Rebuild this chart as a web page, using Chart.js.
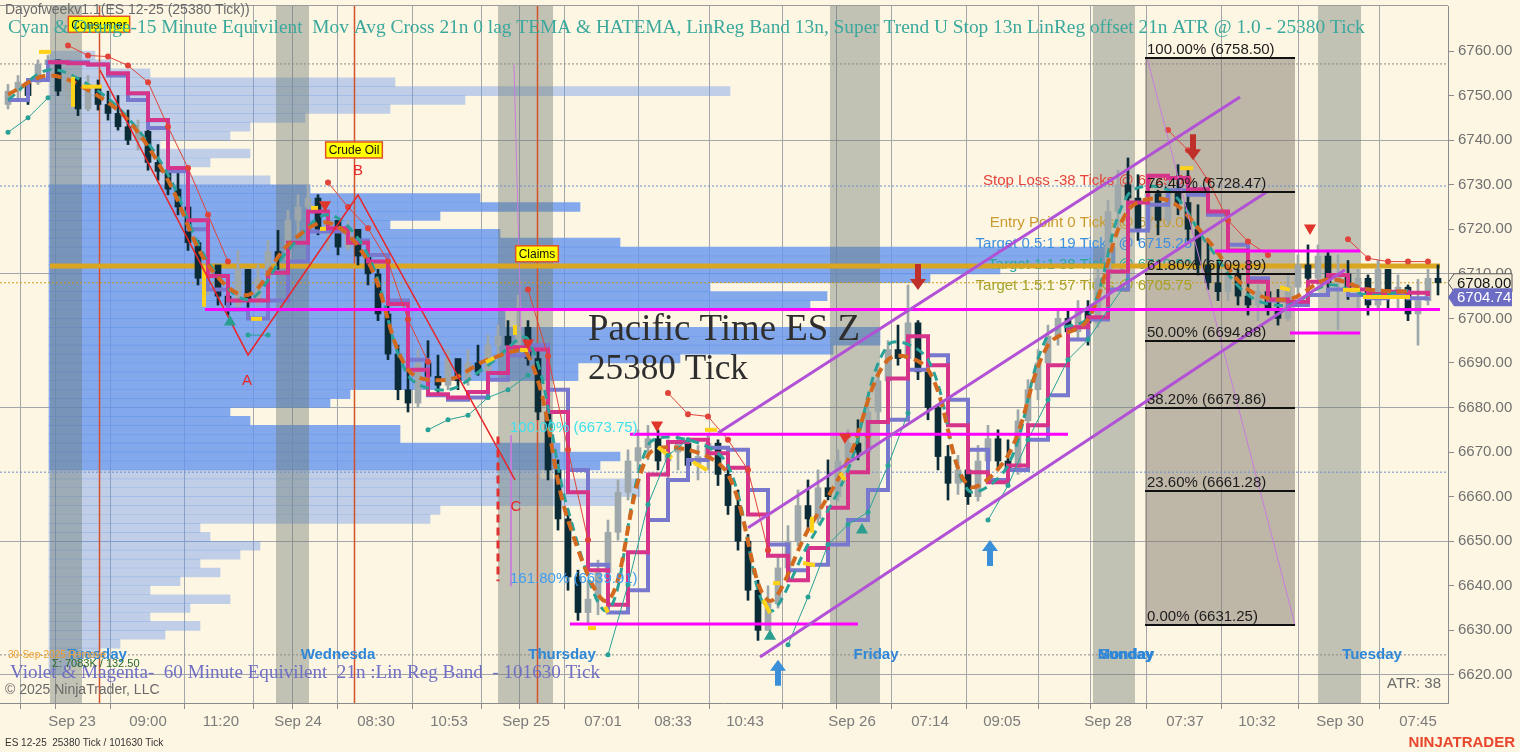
<!DOCTYPE html>
<html>
<head>
<meta charset="utf-8">
<title>ES 12-25 25380 Tick</title>
<script src="https://cdn.jsdelivr.net/npm/chart.js@4.4.1/dist/chart.umd.min.js"></script>
<style>
  html, body { margin: 0; padding: 0; background: #fdf6e3; overflow: hidden; }
  #chartES { display: block; width: 1520px; height: 752px; }
</style>
</head>
<body>
<canvas id="chartES" width="1520" height="752"></canvas>
<script>
// one entry per 25380 tick bar (index 0..143)
const barOpen = [
  6748, 6751, 6753, 6753, 6757, 6758, 6751, 6754, 6747, 6752,
  6748, 6746, 6743, 6740, 6742, 6735, 6733, 6729, 6725, 6717,
  6709, 6712, 6705, 6703, 6711, 6704, 6709, 6715, 6713, 6722,
  6725, 6727, 6720, 6722, 6716, 6720, 6714, 6710, 6701, 6692,
  6684, 6681, 6690, 6687, 6685, 6691, 6686, 6690, 6688, 6694,
  6696, 6694, 6698, 6691, 6679, 6666, 6655, 6642, 6634, 6637,
  6643, 6652, 6661, 6668, 6671, 6673, 6668, 6670, 6672, 6667,
  6669, 6672, 6665, 6658, 6650, 6639, 6630, 6636, 6644, 6650,
  6658, 6655, 6662, 6660, 6668, 6672, 6670, 6679, 6686, 6693,
  6691, 6699, 6688, 6680, 6669, 6663, 6666, 6660, 6668, 6673,
  6668, 6666, 6677, 6684, 6690, 6696, 6700, 6697, 6702, 6699,
  6709, 6724, 6730, 6727, 6720, 6728, 6722, 6729, 6726, 6720,
  6712, 6708, 6706, 6710, 6705, 6703, 6706, 6702, 6700, 6707,
  6712, 6709, 6714, 6708, 6710, 6706, 6709, 6703, 6711, 6705,
  6707, 6701, 6704, 6709
];
const barHigh = [
  6752.5, 6754.5, 6753.5, 6758, 6759, 6758, 6755.5, 6753.5, 6754.5, 6753.5,
  6751, 6750, 6746.75, 6744.5, 6742.25, 6739, 6736.75, 6733.25, 6727.75, 6717.5,
  6714.25, 6711, 6708.75, 6715.25, 6711, 6712, 6717.5, 6719.75, 6724.25, 6727.75,
  6730, 6727.75, 6724.25, 6722, 6722, 6719.75, 6717.5, 6711, 6703, 6694,
  6689.5, 6693, 6695, 6691.75, 6693, 6690.75, 6693, 6694, 6696.25, 6698.5,
  6699.5, 6705.25, 6699.5, 6693, 6680.5, 6668.25, 6657, 6643.5, 6641.25, 6645.75,
  6654.75, 6663.75, 6670.5, 6675, 6676, 6675, 6672.75, 6674, 6672.75, 6671.5,
  6674, 6672.75, 6668.25, 6661.5, 6651.5, 6641.25, 6640, 6646.75, 6653.5, 6661.5,
  6663.75, 6666, 6668.25, 6670.5, 6675, 6677.25, 6681.75, 6688.5, 6695, 6698.5,
  6707.5, 6699.5, 6689.5, 6680.5, 6671.5, 6669.25, 6667, 6671.5, 6676, 6675,
  6672.75, 6679.5, 6686.25, 6693, 6698.5, 6702, 6702, 6704, 6704, 6711,
  6726.5, 6733.25, 6736, 6732.25, 6731, 6728.75, 6732.25, 6734.5, 6733.25, 6725.5,
  6717.5, 6713, 6712, 6711, 6708.75, 6707.5, 6707.5, 6706.5, 6709.75, 6714.25,
  6716.5, 6716.5, 6715.25, 6714.25, 6713, 6711, 6709.75, 6713, 6711, 6709.75,
  6707.5, 6708.75, 6711, 6712
];
const barLow = [
  6747, 6749, 6748, 6752.5, 6754.5, 6750, 6749, 6745.5, 6746.5, 6746.75,
  6744.5, 6742.25, 6739, 6737.75, 6733.25, 6731, 6727.75, 6723.25, 6715.25, 6707.5,
  6705.25, 6703, 6700.75, 6702.5, 6702, 6703, 6708.75, 6711, 6712, 6718.75,
  6723.25, 6718.75, 6715.25, 6714.25, 6715.25, 6712, 6707.5, 6699.5, 6690.75, 6681.75,
  6679, 6680, 6685, 6682.75, 6684, 6684, 6685, 6687.25, 6687, 6691.75,
  6693, 6693, 6689.5, 6677.25, 6663.75, 6652.5, 6639, 6632.25, 6631.25, 6633.5,
  6641.25, 6650.25, 6659.25, 6666, 6668.25, 6666, 6663.75, 6666, 6665, 6663.75,
  6666, 6662.5, 6656, 6648, 6636.75, 6627.75, 6630, 6635, 6643.5, 6649,
  6652.5, 6654, 6659.25, 6659, 6666, 6668.25, 6669, 6677.25, 6684, 6689.5,
  6690, 6686.25, 6677.25, 6666, 6659.25, 6660.5, 6658.25, 6659, 6666, 6666,
  6663.75, 6665, 6675, 6681.75, 6688.5, 6694, 6693, 6695, 6694, 6698,
  6708, 6719.75, 6724.25, 6717.5, 6719.75, 6718.75, 6721, 6723.25, 6717.5, 6709.75,
  6706.5, 6704, 6704, 6703, 6700.75, 6699.5, 6700.75, 6698.5, 6699.5, 6704.25,
  6706.5, 6707.5, 6706.5, 6697.5, 6704.25, 6702, 6700.75, 6702, 6702, 6702,
  6699.5, 6694, 6703, 6705.25
];
const barClose = [
  6751, 6753, 6750, 6757, 6758, 6751, 6754, 6747, 6752, 6748,
  6746, 6743, 6740, 6742, 6735, 6733, 6729, 6725, 6717, 6709,
  6712, 6705, 6703, 6711, 6704, 6709, 6715, 6713, 6722, 6725,
  6727, 6720, 6722, 6716, 6720, 6714, 6710, 6701, 6692, 6684,
  6681, 6690, 6687, 6685, 6691, 6686, 6690, 6688, 6694, 6696,
  6694, 6698, 6691, 6679, 6666, 6655, 6642, 6634, 6637, 6643,
  6652, 6661, 6668, 6671, 6673, 6668, 6670, 6672, 6667, 6669,
  6672, 6665, 6658, 6650, 6639, 6630, 6636, 6644, 6650, 6658,
  6655, 6662, 6660, 6668, 6672, 6670, 6679, 6686, 6693, 6691,
  6699, 6688, 6680, 6669, 6663, 6666, 6660, 6668, 6673, 6668,
  6666, 6677, 6684, 6690, 6696, 6700, 6697, 6702, 6699, 6709,
  6724, 6730, 6727, 6720, 6728, 6722, 6729, 6726, 6720, 6712,
  6708, 6706, 6710, 6705, 6703, 6706, 6702, 6700, 6707, 6712,
  6709, 6714, 6708, 6710, 6706, 6709, 6703, 6711, 6705, 6707,
  6701, 6704, 6709, 6708
];

// axes
const xMin = -0.8, xMax = 144;
const yMin = 6613.7, yMax = 6770.1;
const priceTicks = [6620, 6630, 6640, 6650, 6660, 6670, 6680, 6690, 6700, 6710, 6720, 6730, 6740, 6750, 6760];
const tickPos = [3.0, 6.4, 14.0, 21.3, 27.9, 29.0, 36.8, 44.1, 50.6, 51.8, 59.5, 66.5, 73.7, 81.2, 84.4, 92.2, 99.4, 106.6, 110.0, 117.7, 124.9, 133.2, 141.0];
const tickLabels = ['', 'Sep 23', '09:00', '11:20', '', 'Sep 24', '08:30', '10:53', '', 'Sep 25', '07:01', '08:33', '10:43', '', 'Sep 26', '07:14', '09:05', '', 'Sep 28', '07:37', '10:32', 'Sep 30', '07:45'];

// volume profile (2 point bins)
const profileLevels = [6759, 6757, 6755, 6753, 6751, 6749, 6747, 6745, 6743, 6741, 6739, 6737, 6735, 6733, 6731, 6729, 6727, 6725, 6723, 6721, 6719, 6717, 6715, 6713, 6711, 6709, 6707, 6705, 6703, 6701, 6699, 6697, 6695, 6693, 6691, 6689, 6687, 6685, 6683, 6681, 6679, 6677, 6675, 6673, 6671, 6669, 6667, 6665, 6663, 6661, 6659, 6657, 6655, 6653, 6651, 6649, 6647, 6645, 6643, 6641, 6639, 6637, 6635, 6633, 6631, 6629, 6627, 6625, 6623, 6621];
const profileVol = [
  4.6, 6.1, 10.1, 34.6, 68.1, 41.6, 34.1, 25.6, 20.1, 18.1,
  11.1, 20.1, 16.1, 14.1, 22.1, 26.1, 43.1, 53.1, 39.1, 34.1,
  45.1, 57.1, 106.6, 106.6, 95.1, 88.1, 66.1, 77.8, 76.1, 45.6,
  45.6, 83.1, 83.1, 78.4, 63.1, 52.9, 52.9, 39.1, 30.1, 28.1,
  18.1, 20.1, 35.1, 35.1, 51.1, 57.1, 55.1, 49.1, 59.1, 59.1,
  57.1, 39.1, 38.1, 15.1, 16.1, 21.1, 19.1, 15.1, 17.1, 13.1,
  10.1, 18.1, 14.1, 10.1, 15.1, 11.6, 7.1, 5.1, 3.1, 1.6
];
const profileStart = 4.1;
const valueAreaHigh = 6730.4, valueAreaLow = 6665.3;

// indicators sampled every 2nd bar
const magentaBand = [
  null, null, 6757.5, 6757.25, 6757, 6755, 6750.5, 6744.5, 6733.75, 6722,
  6709.5, 6704, 6704, 6710.25, 6717, 6724, 6720.25, 6717, 6712.75, 6703.25,
  6688.5, 6683, 6682.25, 6683.5, 6687.75, 6693.5, 6693, 6679, 6661, 6643.5,
  6635.75, 6647.5, 6665, 6672.25, 6672.75, 6669.75, 6666.5, 6656, 6646.75, 6641.25,
  6648.5, 6657.5, 6665.5, 6676.75, 6686.5, 6696, 6689.5, 6676, 6665.5, 6663.25,
  6667, 6676, 6689.5, 6698, 6700.25, 6710.5, 6726, 6732, 6731.5, 6729,
  6724, 6715.25, 6708.25, 6704.25, 6703.75, 6708.25, 6709.75, 6706.5, 6705.5, 6706,
  6705.75, 6705
];
const violetBand = [
  6749, 6753.5, 6757.5, 6757.5, 6757, 6754.5, 6749, 6742.75, 6733, 6720,
  6706.5, 6702, 6700, 6704, 6712.75, 6719.5, 6719.5, 6717.5, 6714.25, 6704,
  6690.75, 6682.75, 6681.75, 6682.25, 6686.25, 6691.75, 6694, 6684, 6666, 6644.75,
  6634, 6639, 6654.75, 6663.75, 6668.25, 6671, 6670.5, 6661.5, 6649.25, 6643.5,
  6644.75, 6649.25, 6654.75, 6661.5, 6677.25, 6688.5, 6691.75, 6681.75, 6670.5, 6663.75,
  6666, 6672.75, 6682.75, 6695.25, 6699.75, 6706.5, 6719.75, 6725.5, 6728.75, 6727.75,
  6723.25, 6716.5, 6709, 6704, 6703, 6705.25, 6706.5, 6705.25, 6704.5, 6705,
  6704.5, 6704.75
];
const redStop = [
  null, null, null, 6761.25, 6759, 6758.75, 6756.75, 6753, 6743, 6733.75,
  6723.25, 6712.75, null, null, null, null, 6730.5, 6725, 6720.25, 6712.75,
  6699.75, 6690.25, null, null, null, null, 6706.5, 6691.5, 6670.5, 6650.25,
  null, null, null, 6683.25, 6678.5, 6678, 6672.75, 6666, 6648, null,
  null, null, 6673.75, 6673.75, null, null, null, null, null, null,
  null, null, null, null, null, null, null, null, 6742.25, 6737.75,
  6731, 6722, 6717.25, 6714.25, null, null, null, 6717.75, 6713.5, 6712.75,
  6712.75, 6712.75
];
const tealStop = [
  6741.75, 6745, 6749.5, null, null, null, null, null, null, null,
  null, null, 6696.25, 6696.25, null, null, null, null, null, null,
  null, 6675, 6677.25, 6678.25, 6682.25, 6684, 6687.25, null, null, null,
  6624.5, 6640.25, 6658.25, 6669.25, 6672.75, null, null, null, null, 6626.75,
  6637.5, 6649.25, 6653.75, 6656.5, 6667, 6678.75, null, null, null, 6654.75,
  6662.5, 6672.75, 6681.75, 6690.75, 6695.25, 6702, 6708.5, null, null, null,
  null, null, null, null, null, null, null, null, null, null,
  null, null
];
// indicators sampled every 4th bar
const orangeTema = [
  6750.25, 6754.5, 6751.25, 6744.5, 6731, 6712, 6705.25, 6716.5, 6721.5, 6712.75,
  6688.5, 6686.25, 6690.75, 6691.75, 6654.75, 6636.75, 6669.25, 6670.5, 6665, 6636.75,
  6652.5, 6668.25, 6690.75, 6688.5, 6662.5, 6669.25, 6694, 6699.75, 6724.25, 6726.5,
  6717.5, 6706.5, 6704.25, 6708.75, 6706.5, 6706
];
const tealHatema = [
  6749, 6755.75, 6752.5, 6745, 6732.25, 6712.75, 6704.25, 6715.25, 6723.25, 6714.25,
  6687.25, 6684, 6689.5, 6695.25, 6657, 6634.5, 6671.5, 6672.75, 6667, 6634.5,
  6649.25, 6666, 6694, 6690.75, 6661.5, 6667, 6696.25, 6700.25, 6727.75, 6728.75,
  6716.5, 6705.25, 6703, 6707.5, 6705.25, 6706.25
];
// HATEMA falling (yellow) pieces: start bar, start price, end bar, end price
const yellowX0 = [3.1, 6.5, 7.4, 19.6, 24.3, 30.3, 31.2, 47.8, 50.7, 51.2, 58.0, 59.7, 65.0, 68.5, 69.7, 75.5, 76.5, 79.5, 80.4, 83.2, 117.2, 127.2, 133.5, 135.5];
const yellowY0 = [6759.8, 6754.2, 6752.0, 6711.8, 6699.9, 6724.8, 6720.1, 6690.2, 6698.5, 6692.9, 6630.5, 6635.3, 6671.1, 6667.8, 6675.0, 6636.8, 6640.6, 6645.1, 6655.5, 6665.3, 6733.7, 6707.0, 6706.4, 6704.8];
const yellowX1 = [4.3, 6.5, 9.4, 19.6, 25.4, 31.0, 31.8, 48.6, 50.7, 52.0, 58.8, 60.0, 66.4, 69.9, 70.9, 76.2, 77.2, 80.7, 80.4, 83.7, 118.5, 128.2, 135.2, 140.2];
const yellowY1 = [6759.8, 6747.5, 6752.0, 6702.6, 6699.9, 6724.8, 6720.1, 6691.1, 6696.3, 6692.9, 6630.5, 6634.0, 6668.7, 6666.0, 6675.0, 6633.9, 6640.6, 6644.6, 6651.9, 6663.7, 6733.7, 6706.4, 6706.4, 6704.8];

// drawings
const pocPrice = 6711.75, pocFrom = 4.2, pocTo = 143.2;
const dottedLevels = [6757.1, 6729.7, 6708.0, 6665.5, 6624.5];
const supportLevels = [6702, 6674, 6631.4, 6715.1, 6696.7];
const supportFrom = [19.7, 62.2, 56.2, 120.7, 128.2];
const supportTo = [143.2, 106.0, 85.0, 135.2, 135.2];
const channelX0 = [71.0, 74.0, 75.2], channelY0 = [6674.3, 6653.0, 6624.0];
const channelX1 = [123.2, 125.9, 133.7], channelY1 = [6749.7, 6728.4, 6710.9];
const abcX = [9.2, 24.0, 35.0, 50.7], abcY = [6755.7, 6691.8, 6727.7, 6663.75];
const abcLetters = ['A', 'B', 'C'], abcLetterX = [23.9, 35.0, 50.8], abcLetterY = [6686.0, 6733.1, 6657.7];
const sellX = [31.7, 52.0, 64.9, 83.7, 130.2], sellY = [6725.5, 6694.5, 6676.1, 6673.4, 6720.3];
const buyX = [22.2, 76.2, 85.4], buyY = [6699.2, 6628.7, 6652.5];
const downArrowX = [91.0, 118.5], downArrowY = [6706.4, 6735.5];
const upArrowX = [98.2, 77.0], upArrowY = [6650.3, 6623.4];
const sessionBands = [[4.2, 7.4], [26.8, 30.1], [49.0, 54.5], [82.2, 87.2], [108.5, 112.7], [131.0, 135.3]];
const newsX = [9.1, 34.6, 52.9], newsNames = ['Consumer', 'Crude Oil', 'Claims'], newsY = [6766.0, 6737.8, 6714.5];
const fibFrom = 113.7, fibTo = 128.7;
const fibPct = ['100.00%', '76.40%', '61.80%', '50.00%', '38.20%', '23.60%', '0.00%'];
const fibPrice = [6758.50, 6728.47, 6709.89, 6694.88, 6679.86, 6661.28, 6631.25];
const extX = 50.2, extPct = ['100.00%', '161.80%'], extPrice = [6673.75, 6639.91];
const tradeText = ['Stop Loss -38 Ticks @ 6729.50', 'Entry Point 0 Ticks @ 6720.00', 'Target 0.5:1 19 Ticks @ 6715.25', 'Target 1:1 38 Ticks @ 6710.50', 'Target 1.5:1 57 Ticks @ 6705.75'];
const tradePrice = [6729.50, 6720.00, 6715.25, 6710.50, 6705.75];
const tradeEnd = 118.4;
const dayNames = ['Tuesday', 'Wednesda', 'Thursday', 'Friday', 'Sunday', 'Monday', 'Tuesday'];
const dayPos = [8.9, 33.0, 55.4, 86.8, 111.8, 111.8, 136.4];
const dayPrice = 6624.5;
const violetLast = 6704.74;

const SANS = '"Liberation Sans", Arial, sans-serif';
const SERIF = '"Liberation Serif", "Times New Roman", serif';

const upColor = '#9ea7a9', downColor = '#0b2b37';
const barColors = barClose.map((c, i) => c >= barOpen[i] ? upColor : downColor);
const pts = (arr, stride) => arr.map((v, k) => ({ x: k * stride, y: v }));
const seg = (x0, y0, x1, y1) => [{ x: x0, y: y0 }, { x: x1, y: y1 }];
const lineSet = (label, data, color, width, extra) => Object.assign({
  type: 'line', label, data, borderColor: color, backgroundColor: color, borderWidth: width,
  pointRadius: 0, fill: false, tension: 0, xAxisID: 'x', yAxisID: 'y'
}, extra || {});

const datasets = [
  lineSet('sell', sellX.map((v, k) => ({ x: v, y: sellY[k] })), '#e0352b', 0,
    { showLine: false, pointStyle: 'triangle', pointRotation: 180, pointRadius: 7, pointBackgroundColor: '#e0352b', pointBorderColor: '#e0352b', order: 1 }),
  lineSet('buy', buyX.map((v, k) => ({ x: v, y: buyY[k] })), '#2a9d8f', 0,
    { showLine: false, pointStyle: 'triangle', pointRadius: 7, pointBackgroundColor: '#2a9d8f', pointBorderColor: '#2a9d8f', order: 1 }),
  ...channelX0.map((v, k) => lineSet('channel', seg(v, channelY0[k], channelX1[k], channelY1[k]), '#b152d6', 3, { order: 2 })),
  ...supportLevels.map((p, k) => lineSet('support', seg(supportFrom[k], p, supportTo[k], p), '#ff00ff', 3, { order: 2 })),
  lineSet('abc', abcX.map((v, k) => ({ x: v, y: abcY[k] })), '#e8262a', 1.5, { order: 2 }),
  lineSet('cLine', seg(49.0, 6673.5, 49.0, 6641.0), '#e03030', 3, { borderDash: [8, 5], order: 2 }),
  lineSet('fibAnchor', seg(fibFrom + 0.2, fibPrice[0], fibTo, fibPrice[6]), '#c77ddb', 1, { order: 2 }),
  lineSet('extAnchor', seg(50.6, 6756.9, 51.3, 6697.4), '#c77ddb', 1, { order: 2 }),
  lineSet('extBracket', seg(50.3, extPrice[0], 50.3, extPrice[1]), '#c77ddb', 1, { order: 2 }),
  lineSet('redStop', pts(redStop, 2), '#e0433b', 1, { pointRadius: 3, pointBorderWidth: 0, pointBackgroundColor: '#e0433b', order: 3 }),
  lineSet('tealStop', pts(tealStop, 2), '#2aa198', 1, { pointRadius: 2.5, pointBorderWidth: 0, pointBackgroundColor: '#2aa198', order: 3 }),
  ...yellowX0.map((v, k) => lineSet('hatemaDown', seg(v, yellowY0[k], yellowX1[k], yellowY1[k]), '#ffd21a', 4, { order: 3 })),
  lineSet('tema', pts(orangeTema, 4), '#d2691e', 4, { borderDash: [10, 6], tension: 0.35, order: 4 }),
  lineSet('hatema', pts(tealHatema, 4), '#2aa198', 3, { borderDash: [9, 6], tension: 0.35, order: 4 }),
  lineSet('magenta', pts(magentaBand, 2), '#d6338a', 4, { stepped: true, order: 5 }),
  lineSet('violet', pts(violetBand, 2), '#7878cf', 4, { stepped: true, order: 6 }),
  {
    type: 'bar', label: 'body', xAxisID: 'x', yAxisID: 'y', order: 10,
    data: barOpen.map((o, i) => ({ x: i, y: [o, barClose[i]] })),
    backgroundColor: barColors, barThickness: 6, minBarLength: 1, grouped: false, borderWidth: 0
  },
  {
    type: 'bar', label: 'wick', xAxisID: 'x', yAxisID: 'y', order: 11,
    data: barHigh.map((h, i) => ({ x: i, y: [barLow[i], h] })),
    backgroundColor: barColors, barThickness: 2, grouped: false, borderWidth: 0
  },
  lineSet('poc', seg(pocFrom, pocPrice, pocTo, pocPrice), '#daa520', 5, { order: 20 }),
  ...dottedLevels.map((p, k) => lineSet('dotted', seg(xMin, p, xMax, p),
    ['#8a8a8a', '#6a8fd0', '#d19a16', '#6a8fd0', '#8a8a8a'][k], 1, { borderDash: [2, 2], order: 21 })),
  {
    type: 'bar', label: 'profile', indexAxis: 'y', xAxisID: 'xp', yAxisID: 'yp', order: 50,
    data: profileLevels.map((p, k) => ({ y: p, x: [profileStart, profileStart + profileVol[k]] })),
    backgroundColor: profileLevels.map(p => (p <= valueAreaHigh && p >= valueAreaLow) ? 'rgba(100,149,237,0.80)' : 'rgba(100,149,237,0.40)'),
    barPercentage: 1, categoryPercentage: 1, grouped: false, borderWidth: 0
  }
];

function clipArea(ctx, a) {
  ctx.beginPath();
  ctx.rect(a.left, a.top, a.right - a.left, a.bottom - a.top);
  ctx.clip();
}

function fitText(ctx, text, x, y, w, family, color) {
  ctx.font = '20px ' + family;
  const size = 20 * w / ctx.measureText(text).width;
  ctx.font = size.toFixed(2) + 'px ' + family;
  ctx.fillStyle = color;
  ctx.fillText(text, x, y);
}

function drawArrow(ctx, px, py, dir, color) {
  // dir 1: tip on top, body below; dir -1: tip at bottom
  const len = 26, head = 11, hw = 8, sw = 3;
  ctx.fillStyle = color;
  ctx.beginPath();
  ctx.moveTo(px, py);
  ctx.lineTo(px + hw, py + dir * head);
  ctx.lineTo(px + sw, py + dir * head);
  ctx.lineTo(px + sw, py + dir * len);
  ctx.lineTo(px - sw, py + dir * len);
  ctx.lineTo(px - sw, py + dir * head);
  ctx.lineTo(px - hw, py + dir * head);
  ctx.closePath();
  ctx.fill();
}

function priceTag(ctx, px, py, text, fill, stroke, color) {
  const h = 18, w = 64;
  ctx.beginPath();
  ctx.moveTo(px, py);
  ctx.lineTo(px + 6, py - h / 2);
  ctx.lineTo(px + w, py - h / 2);
  ctx.lineTo(px + w, py + h / 2);
  ctx.lineTo(px + 6, py + h / 2);
  ctx.closePath();
  ctx.fillStyle = fill;
  ctx.fill();
  if (stroke) { ctx.strokeStyle = stroke; ctx.lineWidth = 1; ctx.stroke(); }
  ctx.fillStyle = color;
  ctx.font = '15px ' + SANS;
  ctx.textAlign = 'left';
  ctx.textBaseline = 'middle';
  ctx.fillText(text, px + 9, py + 1);
}

const decor = {
  id: 'decor',
  beforeDraw(chart) {
    const { ctx, width, height, chartArea: a } = chart;
    ctx.save();
    ctx.fillStyle = '#fdf6e3';
    ctx.fillRect(0, 0, width, height);
    ctx.strokeStyle = '#9a9a9a';
    ctx.lineWidth = 1;
    ctx.beginPath(); ctx.moveTo(0, a.top - 0.5); ctx.lineTo(a.right, a.top - 0.5); ctx.stroke();
    ctx.restore();
  },
  afterDatasetDraw(chart, args) {
    if (chart.data.datasets[args.index].label !== 'profile') return;
    const { ctx, chartArea: a, scales: { x, y } } = chart;
    ctx.save();
    clipArea(ctx, a);
    // session breaks
    ctx.fillStyle = 'rgba(105,118,110,0.40)';
    sessionBands.forEach(b => {
      const x0 = x.getPixelForValue(b[0]), x1 = x.getPixelForValue(b[1]);
      ctx.fillRect(x0, a.top, x1 - x0, a.bottom - a.top);
    });
    // fib zone
    const fx0 = x.getPixelForValue(fibFrom), fx1 = x.getPixelForValue(fibTo);
    const fy0 = y.getPixelForValue(fibPrice[0]), fy1 = y.getPixelForValue(fibPrice[fibPrice.length - 1]);
    ctx.fillStyle = 'rgba(128,117,108,0.5)';
    ctx.fillRect(fx0, fy0, fx1 - fx0, fy1 - fy0);
    // news lines
    ctx.strokeStyle = '#d4512a';
    ctx.lineWidth = 1.5;
    newsX.forEach(v => {
      const px = Math.round(x.getPixelForValue(v)) + 0.5;
      ctx.beginPath(); ctx.moveTo(px, a.top); ctx.lineTo(px, a.bottom); ctx.stroke();
    });
    // watermark
    ctx.textAlign = 'left';
    ctx.textBaseline = 'middle';
    fitText(ctx, 'Pacific Time ES Z', a.left + 588, a.top + 324, 272, SERIF, '#2e2e2e');
    fitText(ctx, '25380 Tick', a.left + 588, a.top + 364, 160, SERIF, '#2e2e2e');
    // trade plan labels
    ctx.font = '15px ' + SANS;
    ctx.textAlign = 'right';
    ctx.textBaseline = 'bottom';
    const tradeColors = ['#e5443c', '#c99a2e', '#3b8fe0', '#2aa898', '#a2a22c'];
    tradeText.forEach((t, k) => {
      ctx.fillStyle = tradeColors[k];
      ctx.fillText(t, x.getPixelForValue(tradeEnd), y.getPixelForValue(tradePrice[k]) + 1);
    });
    ctx.restore();
  },
  afterDatasetsDraw(chart) {
    const { ctx, chartArea: a, scales: { x, y } } = chart;
    ctx.save();
    clipArea(ctx, a);
    // fib retracement
    const fx0 = x.getPixelForValue(fibFrom), fx1 = x.getPixelForValue(fibTo);
    ctx.strokeStyle = '#111';
    ctx.lineWidth = 2;
    ctx.font = '15px ' + SANS;
    ctx.textAlign = 'left';
    ctx.textBaseline = 'bottom';
    fibPrice.forEach((p, k) => {
      const py = Math.round(y.getPixelForValue(p));
      ctx.beginPath(); ctx.moveTo(fx0, py); ctx.lineTo(fx1, py); ctx.stroke();
      ctx.fillStyle = '#1c1c1c';
      ctx.fillText(fibPct[k] + ' (' + p.toFixed(2) + ')', fx0 + 2, py - 1);
    });
    // extension labels
    ['#3fe0ee', '#3d9cf0'].forEach((c, k) => {
      ctx.fillStyle = c;
      ctx.fillText(extPct[k] + ' (' + extPrice[k].toFixed(2) + ')', x.getPixelForValue(extX), y.getPixelForValue(extPrice[k]));
    });
    // ABC letters
    ctx.font = '15px ' + SANS;
    ctx.textAlign = 'center';
    ctx.textBaseline = 'middle';
    ctx.fillStyle = '#e8262a';
    abcLetters.forEach((t, k) => ctx.fillText(t, x.getPixelForValue(abcLetterX[k]), y.getPixelForValue(abcLetterY[k])));
    // arrows
    downArrowX.forEach((v, k) => drawArrow(ctx, x.getPixelForValue(v), y.getPixelForValue(downArrowY[k]), -1, '#c0302a'));
    upArrowX.forEach((v, k) => drawArrow(ctx, x.getPixelForValue(v), y.getPixelForValue(upArrowY[k]), 1, '#3a8fd8'));
    // news boxes
    ctx.font = '12px ' + SANS;
    newsNames.forEach((t, k) => {
      const px = x.getPixelForValue(newsX[k]), py = y.getPixelForValue(newsY[k]);
      const w = ctx.measureText(t).width + 6, h = 16;
      ctx.fillStyle = '#ffff00';
      ctx.fillRect(px - w / 2, py - h / 2, w, h);
      ctx.strokeStyle = '#e0522a';
      ctx.lineWidth = 1.5;
      ctx.strokeRect(px - w / 2, py - h / 2, w, h);
      ctx.fillStyle = '#111';
      ctx.fillText(t, px, py + 1);
    });
    // day names
    ctx.font = 'bold 15px ' + SANS;
    ctx.fillStyle = '#2f87d8';
    dayNames.forEach((t, k) => ctx.fillText(t, x.getPixelForValue(dayPos[k]), y.getPixelForValue(dayPrice)));
    ctx.restore();
  },
  afterDraw(chart) {
    const { ctx, chartArea: a, scales: { y } } = chart;
    ctx.save();
    ctx.textAlign = 'left';
    ctx.textBaseline = 'middle';
    ctx.font = '14px ' + SANS;
    ctx.fillStyle = '#6a6a6a';
    ctx.fillText('Dayofweekv1.1(ES 12-25 (25380 Tick))', 5, a.top + 4);
    fitText(ctx, 'Cyan & Orange-15 Minute Equivilent  Mov Avg Cross 21n 0 lag TEMA & HATEMA, LinReg Band 13n, Super Trend U Stop 13n LinReg offset 21n ATR @ 1.0 - 25380 Tick',
      8, a.top + 22, 1357, SERIF, '#3aa89c');
    fitText(ctx, 'Violet & Magenta-  60 Minute Equivilent  21n :Lin Reg Band  - 101630 Tick', 10, 673, 590, SERIF, '#6f6fc4');
    ctx.font = '10px ' + SANS;
    ctx.fillStyle = '#f0a030';
    ctx.fillText('30-Sep-2025 Remove', 8, 655);
    ctx.font = '11px ' + SANS;
    ctx.fillStyle = '#2a6a2a';
    ctx.fillText('\u03a3: 7083K / 132.50', 52, 664);
    ctx.font = '14px ' + SANS;
    ctx.fillStyle = '#6a6a6a';
    ctx.fillText('\u00a9 2025 NinjaTrader, LLC', 5, 690);
    ctx.textAlign = 'right';
    ctx.font = '15px ' + SANS;
    ctx.fillText('ATR: 38', a.right - 7, 684);
    ctx.textAlign = 'left';
    ctx.font = '10px ' + SANS;
    ctx.fillStyle = '#333';
    ctx.fillText('ES 12-25  25380 Tick / 101630 Tick', 5, chart.height - 9);
    ctx.textAlign = 'right';
    ctx.font = 'bold 15px ' + SANS;
    ctx.fillStyle = '#e8472e';
    ctx.fillText('NINJATRADER', chart.width - 5, chart.height - 9);
    // last price / band value tags
    priceTag(ctx, a.right, y.getPixelForValue(barClose[barClose.length - 1]), barClose[barClose.length - 1].toFixed(2), '#f3ecd8', '#555', '#111');
    priceTag(ctx, a.right, y.getPixelForValue(violetLast), violetLast.toFixed(2), '#6c6cc4', null, '#ffffff');
    ctx.restore();
  }
};

const axisFont = { family: SANS, size: 15 };
new Chart(document.getElementById('chartES'), {
  type: 'bar',
  data: { datasets },
  options: {
    responsive: false,
    animation: false,
    devicePixelRatio: 1,
    layout: { autoPadding: false, padding: { top: 6, left: 0, right: 0, bottom: 0 } },
    plugins: { legend: { display: false }, tooltip: { enabled: false } },
    scales: {
      x: {
        type: 'linear', position: 'bottom', min: xMin, max: xMax, bounds: 'data', offset: false,
        afterBuildTicks: s => { s.ticks = tickPos.map(v => ({ value: v })); },
        afterFit: s => { s.height = 49; s.paddingLeft = 0; s.paddingRight = 0; },
        ticks: { autoSkip: false, maxRotation: 0, minRotation: 0, padding: 4, color: '#7b7b7b', font: axisFont,
          callback: (v, idx) => tickLabels[idx] || '' },
        grid: { color: '#a3a7ab', lineWidth: 1, tickLength: 6, tickColor: '#8c8c8c' },
        border: { color: '#8c8c8c', width: 1 }
      },
      y: {
        type: 'linear', position: 'right', min: yMin, max: yMax, bounds: 'data',
        afterBuildTicks: s => { s.ticks = priceTicks.map(v => ({ value: v })); },
        afterFit: s => { s.width = 72; s.paddingTop = 0; s.paddingBottom = 0; },
        ticks: { padding: 4, color: '#707070', font: axisFont, callback: v => Number(v).toFixed(2) },
        grid: {
          color: c => (c.tick && (c.tick.value - 6620) % 30 === 0) ? '#a3a7ab' : 'rgba(0,0,0,0)',
          tickColor: '#8c8c8c', tickLength: 6
        },
        border: { color: '#8c8c8c', width: 1 }
      },
      xp: { type: 'linear', axis: 'x', position: 'bottom', display: false, min: xMin, max: xMax, bounds: 'data',
        afterBuildTicks: s => { s.ticks = []; }, afterFit: s => { s.height = 0; s.paddingLeft = 0; s.paddingRight = 0; } },
      yp: { type: 'linear', axis: 'y', position: 'right', display: false, min: yMin, max: yMax, bounds: 'data',
        afterBuildTicks: s => { s.ticks = []; }, afterFit: s => { s.width = 0; s.paddingTop = 0; s.paddingBottom = 0; } }
    }
  },
  plugins: [decor]
});
</script>
</body>
</html>
